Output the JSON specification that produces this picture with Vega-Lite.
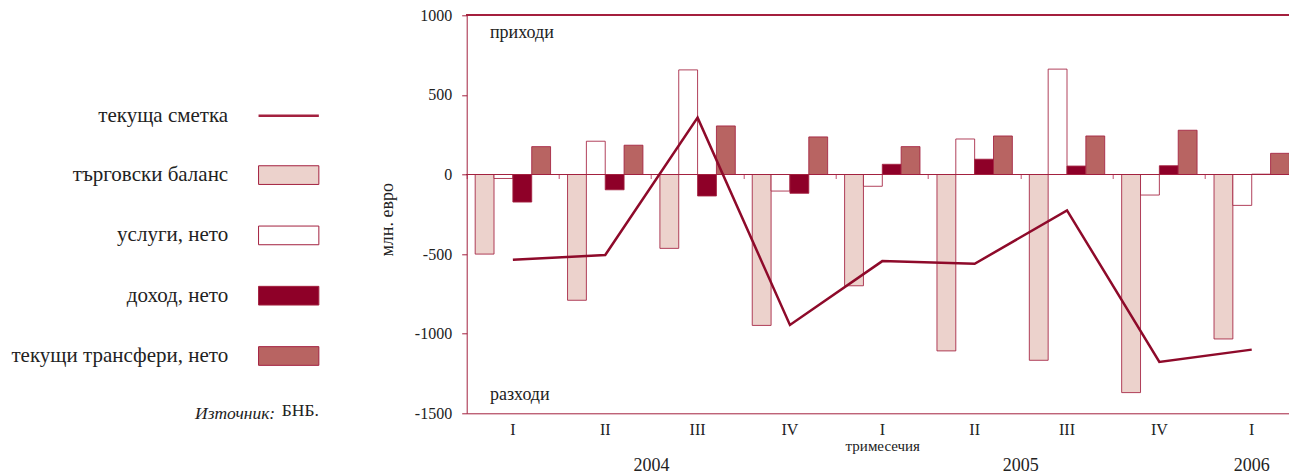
{
  "$schema": "https://vega.github.io/schema/vega-lite/v6.json",
  "width": 822.3,
  "height": 398,
  "autosize": {"type": "none"},
  "padding": {"left": 466.7, "top": 15.3, "right": 0, "bottom": 61.7},
  "config": {
    "font": "Liberation Serif",
    "view": {"stroke": null},
    "axis": {"grid": false, "labelFont": "Liberation Serif", "titleFont": "Liberation Serif"}
  },
  "title": {
    "text": "БНБ.", "orient": "top", "anchor": "start", "frame": "group",
    "offset": 0, "dx": -185, "dy": 412, "fontSize": 17.5, "fontWeight": "normal",
    "font": "Liberation Serif", "color": "#222"
  },
  "datasets": {
    "cab": [
      {"q": "2004-I", "series": "търговски баланс", "value": -500},
      {"q": "2004-I", "series": "услуги, нето", "value": -25},
      {"q": "2004-I", "series": "доход, нето", "value": -173},
      {"q": "2004-I", "series": "текущи трансфери, нето", "value": 175},
      {"q": "2004-II", "series": "търговски баланс", "value": -790},
      {"q": "2004-II", "series": "услуги, нето", "value": 209},
      {"q": "2004-II", "series": "доход, нето", "value": -96},
      {"q": "2004-II", "series": "текущи трансфери, нето", "value": 184},
      {"q": "2004-III", "series": "търговски баланс", "value": -464},
      {"q": "2004-III", "series": "услуги, нето", "value": 657},
      {"q": "2004-III", "series": "доход, нето", "value": -135},
      {"q": "2004-III", "series": "текущи трансфери, нето", "value": 305},
      {"q": "2004-IV", "series": "търговски баланс", "value": -948},
      {"q": "2004-IV", "series": "услуги, нето", "value": -104},
      {"q": "2004-IV", "series": "доход, нето", "value": -118},
      {"q": "2004-IV", "series": "текущи трансфери, нето", "value": 236},
      {"q": "2005-I", "series": "търговски баланс", "value": -699},
      {"q": "2005-I", "series": "услуги, нето", "value": -74},
      {"q": "2005-I", "series": "доход, нето", "value": 64},
      {"q": "2005-I", "series": "текущи трансфери, нето", "value": 175},
      {"q": "2005-II", "series": "търговски баланс", "value": -1108},
      {"q": "2005-II", "series": "услуги, нето", "value": 223},
      {"q": "2005-II", "series": "доход, нето", "value": 96},
      {"q": "2005-II", "series": "текущи трансфери, нето", "value": 242},
      {"q": "2005-III", "series": "търговски баланс", "value": -1167},
      {"q": "2005-III", "series": "услуги, нето", "value": 662},
      {"q": "2005-III", "series": "доход, нето", "value": 53},
      {"q": "2005-III", "series": "текущи трансфери, нето", "value": 242},
      {"q": "2005-IV", "series": "търговски баланс", "value": -1370},
      {"q": "2005-IV", "series": "услуги, нето", "value": -129},
      {"q": "2005-IV", "series": "доход, нето", "value": 55},
      {"q": "2005-IV", "series": "текущи трансфери, нето", "value": 278},
      {"q": "2006-I", "series": "търговски баланс", "value": -1033},
      {"q": "2006-I", "series": "услуги, нето", "value": -194},
      {"q": "2006-I", "series": "доход, нето", "value": 2},
      {"q": "2006-I", "series": "текущи трансфери, нето", "value": 133},
      {"q": "2004-I", "series": "текуща сметка", "value": -536},
      {"q": "2004-II", "series": "текуща сметка", "value": -506},
      {"q": "2004-III", "series": "текуща сметка", "value": 357},
      {"q": "2004-IV", "series": "текуща сметка", "value": -945},
      {"q": "2005-I", "series": "текуща сметка", "value": -544},
      {"q": "2005-II", "series": "текуща сметка", "value": -561},
      {"q": "2005-III", "series": "текуща сметка", "value": -225},
      {"q": "2005-IV", "series": "текуща сметка", "value": -1177},
      {"q": "2006-I", "series": "текуща сметка", "value": -1100}
    ],
    "notes": [
      {"label": "приходи", "q": "2004-I", "value": 886},
      {"label": "разходи", "q": "2004-I", "value": -1385}
    ],
    "years": [
      {"label": "2004", "q": "2004-III"},
      {"label": "2005", "q": "2005-III"}
    ],
    "years2": [
      {"label": "2006", "q": "2006-I"}
    ]
  },
  "layer": [
    {
      "data": {"name": "cab"},
      "transform": [{"filter": "datum.series !== 'текуща сметка'"}],
      "mark": {"type": "bar", "stroke": "#a3213f", "strokeWidth": 1, "strokeOpacity": 0.85},
      "encoding": {
        "x": {
          "field": "q", "type": "nominal",
          "scale": {
            "domain": ["2004-I", "2004-II", "2004-III", "2004-IV", "2005-I", "2005-II", "2005-III", "2005-IV", "2006-I"],
            "range": [0, 831.2], "paddingInner": 0, "paddingOuter": 0
          },
          "axis": {
            "orient": "bottom", "ticks": false, "domainColor": "#a3213f", "domainWidth": 1,
            "labelExpr": "split(datum.label, '-')[1]", "labelAngle": 0, "labelFontSize": 16,
            "labelColor": "#222", "labelPadding": 8,
            "title": "тримесечия", "titleFontSize": 15, "titleFontWeight": "normal",
            "titleColor": "#222", "titlePadding": 1
          }
        },
        "xOffset": {
          "field": "series", "type": "nominal",
          "scale": {
            "domain": ["търговски баланс", "услуги, нето", "доход, нето", "текущи трансфери, нето"],
            "paddingInner": 0, "paddingOuter": 0.45
          }
        },
        "y": {
          "field": "value", "type": "quantitative",
          "scale": {"domain": [-1500, 1000], "nice": false, "zero": false},
          "axis": {
            "values": [-1500, -1000, -500, 0, 500, 1000],
            "tickSize": 5, "tickColor": "#a3213f", "domainColor": "#a3213f",
            "labelFontSize": 16, "labelColor": "#222", "labelPadding": 10,
            "labelExpr": "datum.value < 0 ? '-' + abs(datum.value) : '' + datum.value",
            "title": "млн. евро", "titleFontSize": 18, "titleFontWeight": "normal",
            "titleColor": "#222", "titlePadding": 18, "titleY": 204
          }
        },
        "fill": {
          "field": "series", "type": "nominal",
          "scale": {
            "domain": ["текуща сметка", "търговски баланс", "услуги, нето", "доход, нето", "текущи трансфери, нето"],
            "range": ["#8e0a2a", "#ecd2cc", "#ffffff", "#8e0028", "#b86462"]
          },
          "legend": {
            "orient": "none", "legendX": -271.5, "legendY": 90,
            "title": "Източник:", "titleOrient": "bottom", "titleAnchor": "end",
            "titleFontStyle": "italic", "titleFontWeight": "normal", "titleFontSize": 17.5,
            "titleColor": "#222", "titlePadding": 37.5, "titleFont": "Liberation Serif",
            "symbolType": "M-1,-0.31L1,-0.31L1,0.31L-1,0.31Z", "symbolSize": 3636,
            "symbolStrokeColor": "#a3213f", "symbolStrokeWidth": 1,
            "labelAlign": "right", "labelOffset": -71, "labelFontSize": 21,
            "labelColor": "#222", "labelLimit": 400, "labelFont": "Liberation Serif",
            "rowPadding": 37.3, "padding": 0,
            "encode": {
              "symbols": {
                "update": {
                  "shape": {"signal": "datum.value === 'текуща сметка' ? 'M-1,0L1,0' : 'M-1,-0.31L1,-0.31L1,0.31L-1,0.31Z'"},
                  "strokeWidth": {"signal": "datum.value === 'текуща сметка' ? 2.5 : 1"},
                  "stroke": {"value": "#a3213f"}
                }
              },
              "title": {
                "update": {"dx": {"value": -49}}
              }
            }
          }
        }
      }
    },
    {
      "data": {"name": "cab"},
      "mark": {"type": "rule", "color": "#a3213f", "strokeWidth": 1},
      "encoding": {"y": {"datum": 1000, "type": "quantitative", "title": "млн. евро"}}
    },
    {
      "data": {"name": "cab"},
      "mark": {"type": "rule", "color": "#a3213f", "strokeWidth": 1},
      "encoding": {"y": {"datum": 0, "type": "quantitative", "title": "млн. евро"}}
    },
    {
      "data": {"name": "cab"},
      "transform": [{"filter": "datum.series === 'текуща сметка'"}],
      "mark": {"type": "line", "color": "#8e0a2a", "strokeWidth": 2.5},
      "encoding": {
        "x": {
          "field": "q", "type": "nominal",
          "axis": {
            "orient": "bottom", "offset": -238.8, "labels": false, "domain": false,
            "ticks": true, "tickSize": 4, "tickColor": "#c05070", "bandPosition": 0, "title": null
          }
        },
        "y": {"field": "value", "type": "quantitative", "title": "млн. евро"}
      }
    },
    {
      "data": {"name": "notes"},
      "mark": {"type": "text", "align": "left", "baseline": "middle", "fontSize": 18, "color": "#222"},
      "encoding": {
        "x": {"field": "q", "type": "nominal", "bandPosition": 0.252, "axis": null},
        "y": {"field": "value", "type": "quantitative", "title": "млн. евро"},
        "text": {"field": "label"}
      }
    },
    {
      "data": {"name": "years"},
      "mark": {"type": "text", "align": "center", "baseline": "middle", "fontSize": 18, "color": "#222", "dy": 53},
      "encoding": {
        "x": {"field": "q", "type": "nominal", "bandPosition": 0, "axis": null},
        "y": {"datum": -1500, "type": "quantitative", "title": "млн. евро"},
        "text": {"field": "label"}
      }
    },
    {
      "data": {"name": "years2"},
      "mark": {"type": "text", "align": "center", "baseline": "middle", "fontSize": 18, "color": "#222", "dy": 53},
      "encoding": {
        "x": {"field": "q", "type": "nominal", "bandPosition": 0.5, "axis": null},
        "y": {"datum": -1500, "type": "quantitative", "title": "млн. евро"},
        "text": {"field": "label"}
      }
    }
  ],
  "resolve": {"axis": {"x": "independent"}}
}
